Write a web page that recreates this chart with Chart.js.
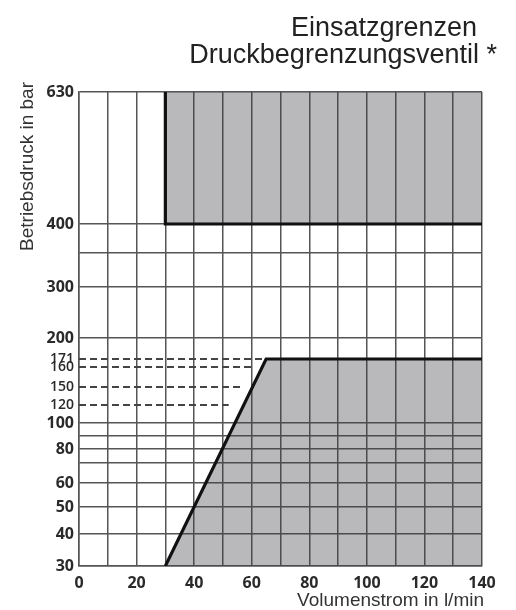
<!DOCTYPE html>
<html>
<head>
<meta charset="utf-8">
<script src="https://cdn.jsdelivr.net/npm/chart.js@4.4.1/dist/chart.umd.min.js"></script>
<style>
html, body { margin: 0; padding: 0; background: #fff; }
</style>
</head>
<body>
<canvas id="myChart" width="516" height="610"></canvas>
<script>
var titleLines = ['Einsatzgrenzen', 'Druckbegrenzungsventil *'];
var yTitle = 'Betriebsdruck in bar';
var xTitle = 'Volumenstrom in l/min';

// pressure axis (bar), printed non-uniform
var yTicks = [30, 40, 50, 60, 70, 80, 90, 100, 120, 150, 160, 171, 200, 300, 350, 400, 630];
var yLabeled = [30, 40, 50, 60, 80, 100, 120, 150, 160, 171, 200, 300, 400, 630];
var ySteps = [0, 32, 59, 83, 103, 117, 130, 143, 161, 179, 199, 207, 228, 279, 313, 342, 474];

// flow axis (l/min)
var xTicks = [0, 10, 20, 30, 40, 50, 60, 70, 80, 90, 100, 110, 120, 130, 140];
var xLabeled = [0, 20, 40, 60, 80, 100, 120, 140];

// limit curves
var upperFlow = [30, 30, 140];
var upperPressure = [630, 400, 400];
var lowerFlow = [30, 65, 140];
var lowerPressure = [30, 171, 171];

// dashed reference levels
var dashPressure = [171, 160, 150, 120];
var dashFlowEnd = [64, 61, 57, 52];

function toAxis(v) {
    for (var i = 1; i < yTicks.length; i++) {
        if (v <= yTicks[i]) {
            var t = (v - yTicks[i - 1]) / (yTicks[i] - yTicks[i - 1]);
            return ySteps[i - 1] + t * (ySteps[i] - ySteps[i - 1]);
        }
    }
    return ySteps[ySteps.length - 1];
}

function pts(xs, ys) {
    return xs.map(function (x, i) { return { x: x, y: toAxis(ys[i]) }; });
}

var datasets = [{
    data: pts(lowerFlow, lowerPressure),
    borderColor: '#111',
    borderWidth: 3.2,
    backgroundColor: 'rgba(60, 60, 70, 0.36)',
    fill: 'start'
}, {
    data: pts(upperFlow, upperPressure),
    borderColor: '#111',
    borderWidth: 3.2,
    backgroundColor: 'rgba(60, 60, 70, 0.36)',
    fill: 'end'
}];

dashPressure.forEach(function (p, i) {
    datasets.push({
        data: pts([0, dashFlowEnd[i]], [p, p]),
        borderColor: '#444',
        borderWidth: 2,
        borderDash: [7, 4],
        fill: false
    });
});

// headings and axis names
var textPlugin = {
    id: 'textLines',
    afterDraw: function (chart) {
        var c = chart.ctx;
        c.save();
        c.fillStyle = '#222';
        c.font = '27px "Liberation Sans", Arial, sans-serif';
        c.textAlign = 'right';
        c.textBaseline = 'alphabetic';
        c.fillText(titleLines[0], 477, 36);
        c.fillText(titleLines[1], 497, 63);

        c.fillStyle = '#333';
        c.font = '19px "Liberation Sans", Arial, sans-serif';
        c.textBaseline = 'middle';
        c.fillText(xTitle, 484, 601);

        c.translate(28, 82);
        c.rotate(-Math.PI / 2);
        c.fillText(yTitle, 0, 0);
        c.restore();
    }
};

var tickFont = { family: 'Open Sans', weight: '700', size: 16 };
var smallFont = { family: 'Open Sans', weight: '600', size: 14 };

var ctx = document.getElementById('myChart').getContext('2d');
var myChart = new Chart(ctx, {
    type: 'line',
    data: { datasets: datasets },
    plugins: [textPlugin],
    options: {
        responsive: false,
        animation: false,
        layout: { padding: { top: 92, right: 34, left: 0, bottom: 0 } },
        elements: { point: { radius: 0 }, line: { tension: 0 } },
        plugins: {
            legend: { display: false },
            tooltip: { enabled: false }
        },
        scales: {
            x: {
                type: 'linear',
                min: 0,
                max: 140,
                afterFit: function (s) { s.height = 44; },
                afterBuildTicks: function (s) {
                    s.ticks = xTicks.map(function (v) { return { value: v }; });
                },
                ticks: {
                    autoSkip: false,
                    maxRotation: 0,
                    padding: 8,
                    color: '#2a2a2a',
                    font: tickFont,
                    callback: function (v) { return xLabeled.indexOf(v) >= 0 ? String(v) : ''; }
                },
                grid: { color: '#555', lineWidth: 1.5, drawTicks: false },
                border: { color: '#555', width: 1.5 }
            },
            y: {
                type: 'linear',
                min: 0,
                max: ySteps[ySteps.length - 1],
                afterFit: function (s) { s.width = 79; },
                afterBuildTicks: function (s) {
                    s.ticks = yTicks.map(function (v) { return { value: toAxis(v) }; });
                },
                ticks: {
                    autoSkip: false,
                    padding: 5,
                    color: '#2a2a2a',
                    font: function (c) {
                        var p = c.tick ? yTicks[c.index] : 0;
                        return dashPressure.indexOf(p) >= 0 ? smallFont : tickFont;
                    },
                    callback: function (v, i) {
                        var p = yTicks[i];
                        return yLabeled.indexOf(p) >= 0 ? String(p) : '';
                    }
                },
                grid: {
                    lineWidth: 1.5,
                    drawTicks: false,
                    color: function (c) {
                        var p = c.tick ? yTicks[c.index] : 0;
                        return dashPressure.indexOf(p) >= 0 ? 'rgba(0,0,0,0)' : '#555';
                    }
                },
                border: { color: '#555', width: 1.5 }
            }
        }
    }
});
</script>
</body>
</html>
